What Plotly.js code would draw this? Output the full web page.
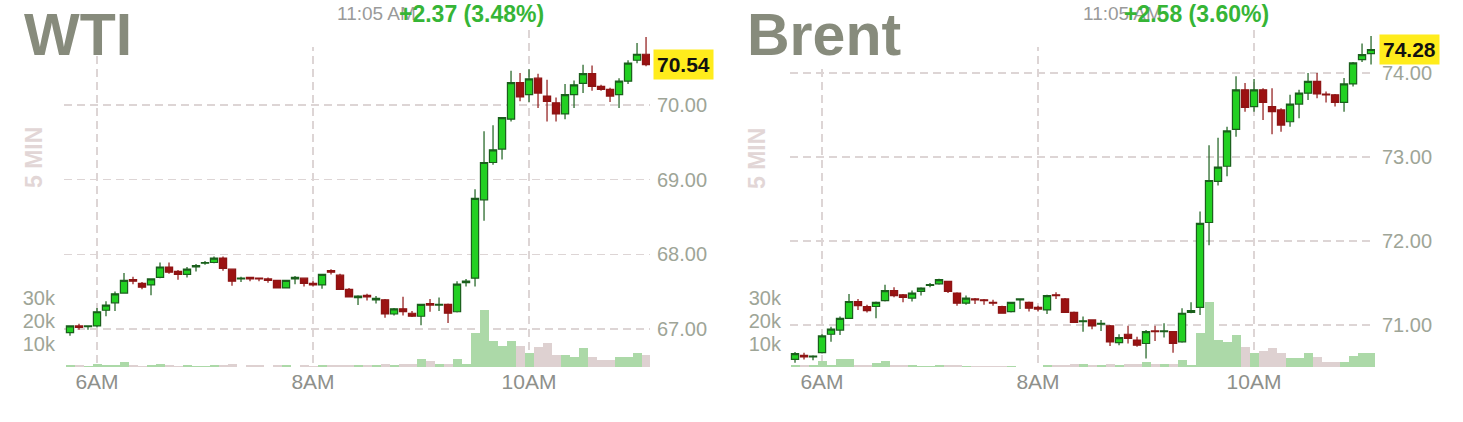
<!DOCTYPE html>
<html><head><meta charset="utf-8">
<script src="https://cdn.plot.ly/plotly-3.0.1.min.js"></script>
<style>html,body{margin:0;padding:0;background:#fff}#chart{width:1463px;height:422px}</style>
</head><body><div id="chart"></div>
<script>
const times = ['05:45','05:50','05:55',
 '06:00','06:05','06:10','06:15','06:20','06:25','06:30','06:35','06:40','06:45','06:50','06:55',
 '07:00','07:05','07:10','07:15','07:20','07:25','07:30','07:35','07:40','07:45','07:50','07:55',
 '08:00','08:05','08:10','08:15','08:20','08:25','08:30','08:35','08:40','08:45','08:50','08:55',
 '09:00','09:05','09:10','09:15','09:20','09:25','09:30','09:35','09:40','09:45','09:50','09:55',
 '10:00','10:05','10:10','10:15','10:20','10:25','10:30','10:35','10:40','10:45','10:50','10:55',
 '11:00','11:05'];

const wtiOpen = [66.95,67.04,67.03,67.04,67.25,67.35,67.48,67.66,67.61,67.59, 67.69,67.83,67.77,67.73,67.83,67.88,67.89,67.95,67.80,67.67, 67.69,67.68,67.67,67.65,67.55,67.67,67.68,67.61,67.59,67.78, 67.72,67.53,67.42,67.45,67.39,67.39,67.20,67.27,67.21,67.17, 67.34,67.32,67.33,67.23,67.62,67.68,68.73,69.23,69.41,69.81, 70.30,70.14,70.36,70.12,70.03,69.88,70.14,70.29,70.42,70.25, 70.21,70.14,70.32,70.60,70.68];
const wtiHigh = [67.05,67.07,67.05,67.28,67.37,67.50,67.75,67.70,67.63,67.68, 67.89,67.89,67.79,67.83,67.87,67.91,67.97,67.97,67.81,67.70, 67.70,67.69,67.69,67.66,67.66,67.71,67.69,67.64,67.74,67.80, 67.74,67.55,67.45,67.47,67.44,67.40,67.28,67.43,67.24,67.33, 67.40,67.42,67.34,67.64,67.67,68.87,69.65,69.73,69.84,70.46, 70.43,70.48,70.42,70.34,70.10,70.28,70.33,70.54,70.53,70.27, 70.23,70.36,70.60,70.83,70.91];
const wtiLow = [66.91,66.99,66.99,67.02,67.17,67.24,67.47,67.60,67.53,67.45, 67.68,67.74,67.66,67.69,67.77,67.86,67.88,67.78,67.58,67.63, 67.64,67.64,67.62,67.55,67.55,67.60,67.57,67.57,67.54,67.73, 67.53,67.43,67.32,67.38,67.34,67.15,67.18,67.18,67.16,67.05, 67.23,67.24,67.08,67.22,67.57,67.57,68.45,69.20,69.27,69.78, 70.05,70.04,69.96,69.78,69.78,69.81,69.96,70.16,70.19,70.19, 70.04,69.96,70.28,70.56,70.52];
const wtiClose = [67.04,67.02,67.04,67.23,67.32,67.47,67.65,67.64,67.56,67.67, 67.83,67.76,67.73,67.80,67.85,67.89,67.95,67.81,67.64,67.68, 67.67,67.67,67.65,67.55,67.65,67.69,67.61,67.59,67.73,67.76, 67.53,67.43,67.44,67.43,67.41,67.20,67.27,67.23,67.17,67.33, 67.32,67.33,67.21,67.60,67.64,68.75,69.23,69.40,69.83,70.30, 70.11,70.35,70.16,70.05,69.88,70.14,70.27,70.42,70.25,70.21, 70.12,70.32,70.56,70.68,70.54];
const wtiVol = [800,700,600,1300,700,800,2300,900,600,700, 1300,700,600,700,600,600,700,800,1200,0, 700,700,0,700,700,0,700,600,800,700, 900,800,700,900,700,1100,800,1200,1100,3300, 2600,1300,1300,3300,1300,14800,24600,11100,9300,11100, 9100,6300,8600,10400,5200,5200,4400,8400,4400,2900, 3000,4400,4400,6300,5400];

const brOpen = [70.59,70.64,70.62,70.67,70.89,70.94,71.08,71.28,71.22,71.22, 71.29,71.41,71.36,71.32,71.40,71.47,71.49,71.52,71.38,71.26, 71.31,71.30,71.27,71.22,71.16,71.30,71.27,71.21,71.18,71.36, 71.31,71.15,71.04,71.06,71.01,70.99,70.79,70.89,70.82,70.78, 70.93,70.92,70.92,70.80,71.15,71.21,72.22,72.71,72.89,73.33, 73.80,73.60,73.80,73.60,73.56,73.42,73.63,73.76,73.90,73.75, 73.74,73.65,73.87,74.16,74.23];
const brHigh = [70.68,70.67,70.64,70.89,70.98,71.10,71.37,71.31,71.24,71.28, 71.48,71.45,71.37,71.41,71.45,71.50,71.55,71.52,71.39,71.35, 71.32,71.31,71.30,71.23,71.27,71.31,71.28,71.23,71.36,71.39, 71.32,71.16,71.10,71.06,71.06,71.00,70.89,70.99,70.86,70.94, 70.99,71.02,70.93,71.20,71.27,72.35,73.14,73.23,73.36,73.96, 73.88,73.93,73.82,73.82,73.58,73.74,73.80,74.00,74.00,73.78, 73.75,73.94,74.13,74.35,74.44];
const brLow = [70.55,70.59,70.58,70.66,70.80,70.88,71.07,71.18,71.15,71.08, 71.28,71.33,71.27,71.28,71.35,71.45,71.48,71.38,71.23,71.24, 71.25,71.24,71.23,71.14,71.15,71.19,71.16,71.16,71.13,71.31, 71.15,71.03,70.92,70.95,70.93,70.75,70.76,70.78,70.74,70.60, 70.81,70.85,70.67,70.79,71.14,71.12,71.95,72.66,72.77,73.24, 73.54,73.54,73.44,73.27,73.30,73.36,73.46,73.68,73.70,73.65, 73.60,73.54,73.84,74.13,74.10];
const brClose = [70.66,70.62,70.63,70.87,70.95,71.08,71.28,71.23,71.17,71.27, 71.41,71.35,71.33,71.38,71.44,71.48,71.54,71.40,71.26,71.32, 71.30,71.29,71.26,71.14,71.27,71.31,71.20,71.19,71.35,71.35, 71.15,71.03,71.05,70.99,71.02,70.80,70.85,70.84,70.76,70.92, 70.92,70.93,70.78,71.14,71.17,72.21,72.72,72.88,73.31,73.80, 73.59,73.80,73.65,73.54,73.38,73.63,73.76,73.90,73.75,73.74, 73.65,73.87,74.12,74.22,74.28];
const brVol = [900,700,700,2600,1000,3600,3600,800,700,1900, 2600,900,700,700,600,600,700,700,700,600, 600,600,600,600,600,0,0,0,700,700, 900,1100,1100,800,700,1200,800,1100,1100,2200, 1200,1200,1200,3000,700,14800,28400,11800,10800,13900, 8800,6100,7100,8100,6200,3800,3800,6100,4200,2300, 2300,2300,5000,6100,6100];

const priceTicks = [67, 68, 69, 70, 71];
const brPriceTicks = [71, 72, 73, 74];
const volTicks = [10000, 20000, 30000];
const volTickText = ['10k', '20k', '30k'];
const hourTicks = ['06:00', '08:00', '10:00'];
const hourTickText = ['6AM', '8AM', '10AM'];
const wtiHeader = {name: 'WTI', time: '11:05 AM', change: '+2.37 (3.48%)'};
const brHeader = {name: 'Brent', time: '11:05 AM', change: '+2.58 (3.60%)'};

const DAY = '2018-06-01 ';
const W = 1463, TOP = 30, BOT = 367;
const px = x => x / W;
const py = y => (BOT - y) / (BOT - TOP);

const FONT = 'Liberation Sans, Arial, sans-serif';
const UP = '#22d022', UPLINE = '#1a5f1c', DN = '#9c1212', DNLINE = '#8e1414';
const VUP = '#acd9a8', VDN = '#ded1d1';
const GRID = '#ddd5d5';
const TICKC = '#9ea597';

function traces(o, h, l, c, v, xa, yv, yp) {
  const xs = times.map(t => DAY + t);
  return [
    {type: 'bar', x: xs, y: v, xaxis: xa, yaxis: yv, width: 300000,
     marker: {color: c.map((cc, i) => cc > o[i] ? VUP : VDN), line: {width: 0}},
     hoverinfo: 'skip', showlegend: false},
    {type: 'candlestick', x: xs, open: o, high: h, low: l, close: c, xaxis: xa, yaxis: yp,
     increasing: {fillcolor: UP, line: {color: UPLINE, width: 1.2}},
     decreasing: {fillcolor: DN, line: {color: DNLINE, width: 1.2}},
     whiskerwidth: 0, hoverinfo: 'skip', showlegend: false}
  ];
}

const data = [
  ...traces(wtiOpen, wtiHigh, wtiLow, wtiClose, wtiVol, 'x', 'y', 'y2'),
  ...traces(brOpen, brHigh, brLow, brClose, brVol, 'x2', 'y3', 'y4')
];

function xAxis(domain, range, anchor) {
  return {domain, range, type: 'date', anchor,
    tickvals: hourTicks.map(t => DAY + t), ticktext: hourTickText,
    tickfont: {family: FONT, size: 21, color: '#8e908b'},
    showgrid: true, gridcolor: GRID, gridwidth: 1.5, griddash: '8px,5px',
    zeroline: false, showline: false, ticks: '', rangeslider: {visible: false},
    fixedrange: true};
}
function volAxis(anchor) {
  return {anchor, range: [0, 146500], side: 'left', tickvals: volTicks, ticktext: volTickText,
    tickfont: {family: FONT, size: 20, color: TICKC}, showgrid: false, zeroline: false,
    showline: false, ticks: '', ticklabelstandoff: 8, fixedrange: true};
}
function priceAxis(anchor, overlaying, range, ticks, hideTop) {
  return {anchor, overlaying, range, side: 'right', tickvals: ticks,
    ticktext: ticks.map((t, i) => (hideTop && i === ticks.length - 1) ? '' : t.toFixed(2)),
    tickfont: {family: FONT, size: 20, color: TICKC},
    showgrid: true, gridcolor: GRID, gridwidth: 1.5, griddash: '8px,5px',
    zeroline: false, showline: false, ticks: '', ticklabelstandoff: 6, fixedrange: true};
}

function header(h, left, timeX, chgX) {
  return [
    {text: h.name, xref: 'paper', yref: 'paper', x: px(left), y: py(35), xanchor: 'left', yanchor: 'middle',
     showarrow: false, font: {family: FONT, size: 59, weight: 700, color: '#878b7c'}},
    {text: '5 MIN', xref: 'paper', yref: 'paper', x: px(left + 12), y: py(158), xanchor: 'center', yanchor: 'middle',
     textangle: -90, showarrow: false, font: {family: FONT, size: 23, weight: 700, color: '#e2d6d6'}},
    {text: h.time, xref: 'paper', yref: 'paper', x: px(timeX), y: py(14), xanchor: 'left', yanchor: 'middle',
     showarrow: false, font: {family: FONT, size: 19, color: '#9a9a9a'}},
    {text: h.change, xref: 'paper', yref: 'paper', x: px(chgX), y: py(14), xanchor: 'left', yanchor: 'middle',
     showarrow: false, font: {family: FONT, size: 23, weight: 700, color: '#36b536'}}
  ];
}
function lastLabel(closeArr, x, yref) {
  return {text: closeArr[closeArr.length - 1].toFixed(2), xref: 'paper', yref, x: px(x),
    y: closeArr[closeArr.length - 1], xanchor: 'left', yanchor: 'middle', showarrow: false,
    bgcolor: '#ffec1c', borderpad: 3,
    font: {family: FONT, size: 21, weight: 700, color: '#111'}};
}

function mask(x0, x1, y0, y1) {
  return {type: 'rect', xref: 'paper', yref: 'paper', x0: px(x0), x1: px(x1), y0: py(y1), y1: py(y0),
    fillcolor: '#ffffff', line: {width: 0}, layer: 'above'};
}

const layout = {
  width: 1463, height: 422,
  margin: {l: 0, r: 0, t: TOP, b: 422 - BOT, pad: 0},
  paper_bgcolor: '#fff', plot_bgcolor: 'rgba(0,0,0,0)',
  font: {family: FONT},
  showlegend: false, hovermode: false, dragmode: false,
  bargap: 0, boxgap: 0.2, boxgroupgap: 0,
  xaxis: xAxis([px(64), px(650)], [DAY + '05:41:40', DAY + '11:07:12'], 'y'),
  yaxis: volAxis('x'),
  yaxis2: priceAxis('x', 'y', [66.49, 71.005], priceTicks, true),
  xaxis2: xAxis([px(790), px(1375)], [DAY + '05:42:13', DAY + '11:07:12'], 'y3'),
  yaxis3: volAxis('x2'),
  yaxis4: priceAxis('x2', 'y3', [70.5, 74.512], brPriceTicks, false),
  shapes: [
    mask(60, 328, 26, 47),
    mask(786, 1050, 26, 47),
    mask(786, 905, 47, 69)
  ],
  annotations: [
    ...header(wtiHeader, 22, 335, 397),
    ...header(brHeader, 745, 1081, 1122),
    lastLabel(wtiClose, 653, 'y2'),
    lastLabel(brClose, 1379, 'y4')
  ]
};

Plotly.newPlot('chart', data, layout, {staticPlot: true, displayModeBar: false});
</script>
</body></html>
